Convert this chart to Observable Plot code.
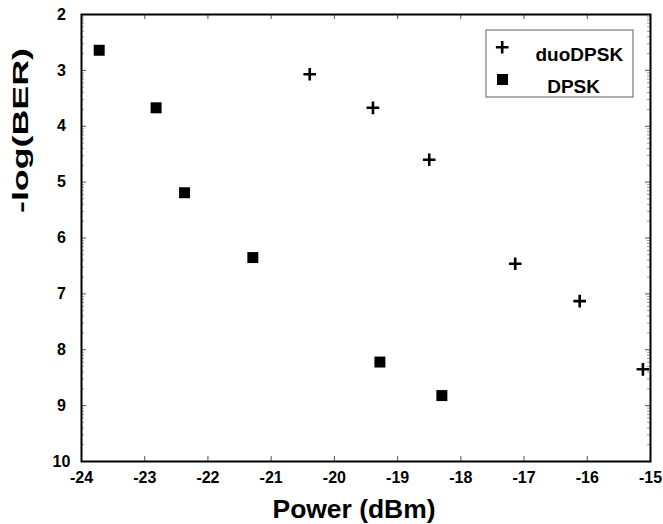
<!DOCTYPE html>
<html><head><meta charset="utf-8">
<script src="https://cdn.jsdelivr.net/npm/d3@7"></script>
<script src="https://cdn.jsdelivr.net/npm/@observablehq/plot@0.6"></script>
<style>body{margin:0;background:#fff} #chart{width:663px;height:524px}</style>
</head><body><div id="chart"></div>
<script>
// Data
const seriesNames = ["duoDPSK", "DPSK"];
const duoPower = [-20.39, -19.39, -18.50, -17.14, -16.12, -15.12];
const duoBER   = [3.07, 3.67, 4.60, 6.46, 7.13, 8.35];
const dpskPower = [-23.72, -22.82, -22.37, -21.29, -19.28, -18.30];
const dpskBER   = [2.64, 3.67, 5.19, 6.35, 8.22, 8.82];
const xTicks = [-24, -23, -22, -21, -20, -19, -18, -17, -16, -15];
const xTickLabels = ["-24", "-23", "-22", "-21", "-20", "-19", "-18", "-17", "-16", "-15"];
const yTicks = [2, 3, 4, 5, 6, 7, 8, 9, 10];
const yTickLabels = ["2", "3", "4", "5", "6", "7", "8", "9", "10"];
const xLabel = "Power (dBm)";
const yLabel = "-log(BER)";

const duo = duoPower.map((p, i) => ({power: p, ber: duoBER[i]}));
const dpsk = dpskPower.map((p, i) => ({power: p, ber: dpskBER[i]}));

// minor ticks: BER decade ticks (k * 10^-(n+1))
const minor = [];
for (let n = 2; n < 10; n++) for (let k = 2; k <= 9; k++) minor.push(n + 1 - Math.log10(k));

const W = 663, H = 524, mL = 81, mR = 13, mT = 14, mB = 63;
const pw = W - mL - mR, ph = H - mT - mB;
const font = "Liberation Sans, Arial, Helvetica, sans-serif";

const legendBox = (index, scales, values, dims) => {
  const r = document.createElementNS("http://www.w3.org/2000/svg", "rect");
  r.setAttribute("x", dims.width - dims.marginRight - 164);
  r.setAttribute("y", dims.marginTop + 16);
  r.setAttribute("width", 147);
  r.setAttribute("height", 67);
  r.setAttribute("fill", "#fff");
  r.setAttribute("stroke", "#777");
  r.setAttribute("stroke-width", 1.2);
  return r;
};

const plusR = 4.15, squareR = 6.2;

const chart = Plot.plot({
  width: W, height: H,
  marginLeft: mL, marginRight: mR, marginTop: mT, marginBottom: mB,
  style: {fontFamily: font, background: "#fff", color: "#000", overflow: "visible"},
  x: {domain: [-24, -15]},
  y: {domain: [2, 10], reverse: true},
  marks: [
    Plot.axisX(xTicks, {tickSize: 0, tickPadding: 10.5, fontSize: 16, fontWeight: "bold", label: null,
      tickFormat: d => xTickLabels[xTicks.indexOf(d)]}),
    Plot.axisY(yTicks, {tickSize: 0, tickPadding: 20, textAnchor: "middle", fontSize: 16, fontWeight: "bold", label: null,
      tickFormat: d => yTickLabels[yTicks.indexOf(d)]}),
    Plot.tickX(xTicks, {x: d => d, stroke: "#555", insetTop: ph - 5}),
    Plot.tickX(xTicks, {x: d => d, stroke: "#555", insetBottom: ph - 5}),
    Plot.tickY(yTicks, {y: d => d, stroke: "#555", insetRight: pw - 5}),
    Plot.tickY(yTicks, {y: d => d, stroke: "#555", insetLeft: pw - 5}),
    Plot.tickY(minor, {y: d => d, stroke: "#999", insetRight: pw - 3}),
    Plot.tickY(minor, {y: d => d, stroke: "#999", insetLeft: pw - 3}),
    Plot.frame({stroke: "#000", strokeWidth: 2}),
    Plot.dot(duo, {x: "power", y: "ber", symbol: "plus", r: plusR, fill: "none", stroke: "#000", strokeWidth: 2.6}),
    Plot.dot(dpsk, {x: "power", y: "ber", symbol: "square", r: squareR, fill: "#000", stroke: null}),
    legendBox,
    Plot.dot([seriesNames[0]], {frameAnchor: "top-right", dx: -148.3, dy: 32.7, symbol: "plus", r: plusR, fill: "none", stroke: "#000", strokeWidth: 2.6}),
    Plot.dot([seriesNames[1]], {frameAnchor: "top-right", dx: -148, dy: 65, symbol: "square", r: squareR, fill: "#000", stroke: null}),
    Plot.text([seriesNames[0]], {text: d => d, frameAnchor: "top-right", dx: -115, dy: 33, textAnchor: "start", fontSize: 19, fontWeight: "bold", fill: "#000"}),
    Plot.text([seriesNames[1]], {text: d => d, frameAnchor: "top-right", dx: -103.3, dy: 65, textAnchor: "start", fontSize: 19, fontWeight: "bold", fill: "#000"}),
    Plot.text([xLabel], {text: d => d, frameAnchor: "bottom", dx: -12, dy: 48, lineAnchor: "middle", fontSize: 25, fontWeight: "bold", fill: "#000"}),
    Plot.text([yLabel], {text: d => d, frameAnchor: "left", dx: -61, dy: -25, rotate: -90, lineAnchor: "middle", fontSize: 22, fontWeight: "bold", fill: "#000"})
  ]
});

chart.querySelectorAll("text").forEach(t => {
  if (t.textContent === yLabel) { t.setAttribute("textLength", 165); t.setAttribute("lengthAdjust", "spacingAndGlyphs"); }
  if (t.textContent === xLabel) { t.setAttribute("textLength", 163); t.setAttribute("lengthAdjust", "spacingAndGlyphs"); }
});

document.getElementById("chart").appendChild(chart);
</script>
</body></html>
